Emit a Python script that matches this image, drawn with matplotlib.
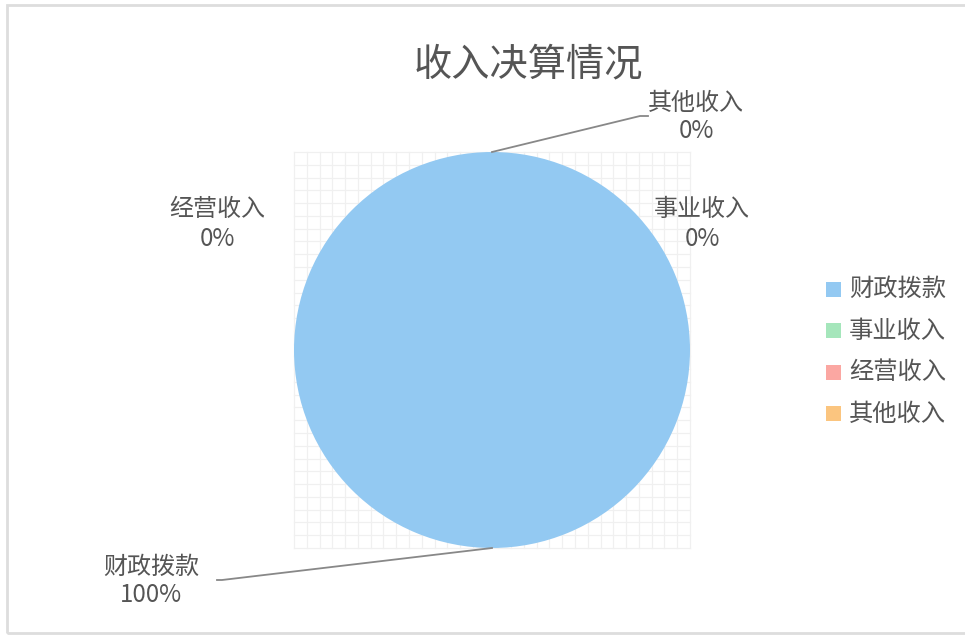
import numpy as np
import matplotlib.pyplot as plt
from matplotlib.patches import Rectangle

plt.rcParams['font.family'] = ['Noto Sans CJK SC', 'DejaVu Sans']

# 数据
categories = ['财政拨款', '事业收入', '经营收入', '其他收入']
values = [100, 0, 0, 0]
colors = ['#93c9f2', '#a5e6bb', '#fba7a2', '#fbc57f']
title = '收入决算情况'

W, H = 965, 635
fig = plt.figure(figsize=(W / 100, H / 100), dpi=100)
ax = fig.add_axes([0, 0, 1, 1])

# 外框
fig.patches.append(Rectangle((7 / W, 2 / H), 1.0, 628 / H, transform=fig.transFigure,
                             fill=False, edgecolor='#dddddd', linewidth=2))

cx, cy, r = 492, H - 350, 198

# 背景网格
n = 31
for i in range(n + 1):
    p = cx - r + 2 * r * i / n
    ax.plot([p, p], [cy - r, cy + r], color='#f0f0f0', lw=0.9, zorder=0)
    q = cy - r + 2 * r * i / n
    ax.plot([cx - r, cx + r], [q, q], color='#f0f0f0', lw=0.9, zorder=0)

wedges, _ = ax.pie(values, colors=colors, startangle=90, counterclock=False,
                   radius=r, center=(cx, cy), frame=True,
                   wedgeprops=dict(linewidth=0))
ax.set_xlim(0, W)
ax.set_ylim(0, H)
ax.set_aspect('equal')
ax.axis('off')

total = sum(values)
pct = [f'{v / total * 100:.0f}%' for v in values]

txt = '#555555'
fs = 17.3
# 标签位置
label_pos = {
    '财政拨款': (151, H - 581),
    '事业收入': (702, H - 224),
    '经营收入': (217, H - 224),
    '其他收入': (696, H - 117),
}
for name, p in zip(categories, pct):
    x, y = label_pos[name]
    ax.text(x, y, f'{name}\n{p}', ha='center', va='center', fontsize=fs,
            color=txt, linespacing=1.15)

# 引线
ax.plot([492, 640, 648], [H - 152, H - 116, H - 116], color='#888888', lw=1.3)
ax.plot([492, 222, 217], [H - 548, H - 580, H - 580], color='#888888', lw=1.3)

ax.text(528, H - 65, title, ha='center', va='center', fontsize=27.5, color=txt)

# 图例
for i, (name, c) in enumerate(zip(categories, colors)):
    y = H - (289 + i * 41.5)
    ax.add_patch(Rectangle((826, y - 7.5), 15, 15, facecolor=c, edgecolor='none'))
    ax.text(849, y, name, ha='left', va='center', fontsize=17.5, color=txt)

fig.savefig('out.png', dpi=100)
